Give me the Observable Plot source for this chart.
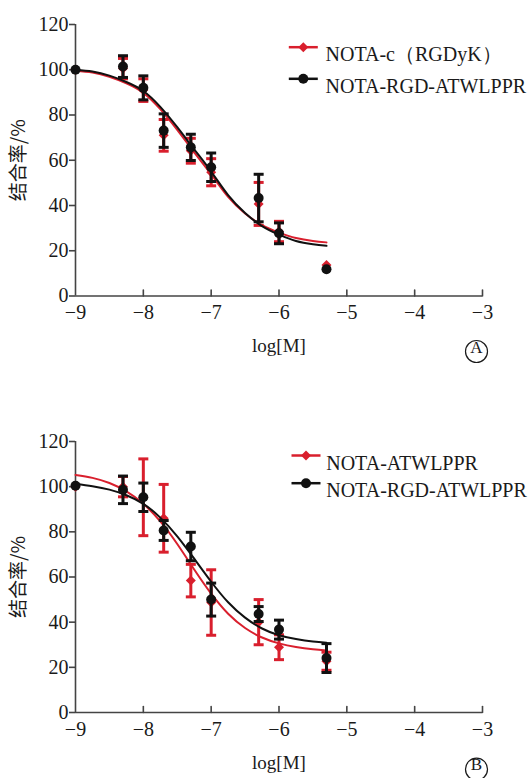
<!DOCTYPE html>
<html><head><meta charset="utf-8">
<script src="https://cdn.jsdelivr.net/npm/d3@7"></script>
<script src="https://cdn.jsdelivr.net/npm/@observablehq/plot@0.6"></script>
<style>
body{margin:0;background:#fff}
#chart{width:531px}
#chart svg{display:block}
#chart svg, #chart svg text, #chart svg g{font-family:"Liberation Serif","DejaVu Serif",serif !important}
#chart svg .cjk, #chart svg .cjk text{font-family:"Noto Sans CJK SC",sans-serif !important}
</style>
</head><body><div id="chart"></div>
<script>
// ---- shared axis data ----
const xTicks = [-9, -8, -7, -6, -5, -4, -3];
const yTicks = [0, 20, 40, 60, 80, 100, 120];
const xDomain = [-9, -3];
const yDomain = [0, 120];
const xLabel = "log[M]";
const yLabel = "结合率/%";
const doses = [-9, -8.3, -8, -7.7, -7.3, -7, -6.3, -6, -5.3];
const fitDoses = [-9, -8.75, -8.5, -8.25, -8, -7.75, -7.5, -7.25, -7, -6.75, -6.5, -6.25, -6, -5.75, -5.5, -5.3];

// ---- panel A ----
const namesA = ["NOTA-c（RGDyK）", "NOTA-RGD-ATWLPPR"];
const redMeanA = [100, 100.5, 91, 71, 64.2, 54.7, 40.7, 28.5, 13.7];
const redErrA = [0, 4.5, 5, 7, 5.5, 6, 9.5, 4.5, 0];
const blackMeanA = [100, 101.4, 92, 73.1, 65.7, 56.9, 43.3, 27.7, 11.8];
const blackErrA = [0, 4.8, 5.3, 7.4, 5.8, 6.3, 10.5, 4.6, 0];
const redFitA = [99.6, 98.8, 96.9, 94.0, 89.8, 82.6, 73.4, 63.5, 53.8, 43.8, 36.5, 31.3, 28.0, 25.6, 24.3, 23.7];
const blackFitA = [100.0, 99.2, 97.4, 94.6, 90.6, 83.6, 74.6, 64.8, 55.0, 44.6, 36.7, 30.9, 27.1, 24.3, 22.9, 22.2];

// ---- panel B ----
const namesB = ["NOTA-ATWLPPR", "NOTA-RGD-ATWLPPR"];
const redMeanB = [100, 100, 95.3, 86, 58.4, 48.7, 40, 28.9, 22.7];
const redErrB = [0, 4.5, 17, 15, 7.2, 14.5, 10, 5.5, 4];
const blackMeanB = [100.4, 98.6, 95.3, 80.6, 73.5, 50, 43.6, 36.7, 24.1];
const blackErrB = [0, 6.1, 6.3, 4.4, 6.3, 7.3, 3.3, 4.2, 6.4];
const redFitB = [105.2, 103.9, 101.6, 97.9, 92.4, 84.6, 74.6, 63.3, 52.6, 43.7, 37.4, 33.2, 30.6, 29.0, 28.0, 27.5];
const blackFitB = [101.3, 100.2, 98.7, 96.2, 92.4, 86.3, 78.0, 68.1, 57.9, 48.8, 42.0, 37.2, 34.2, 32.5, 31.4, 30.9];

// ---- styling ----
const RED = "#d91f2d";
const BLACK = "#111";
const AXIS = "#444";
const SERIF = "Liberation Serif";
const CJK = "Noto Sans CJK SC";

const tickUp = {draw(c, l) { c.moveTo(0, 0); c.lineTo(0, -l); }};
const capSym = {draw(c) { c.moveTo(-5, 0); c.lineTo(5, 0); }};
const legendLine = {draw(c) { c.moveTo(-14.5, 0); c.lineTo(14.5, 0); }};
const fmt = d => d < 0 ? "\u2212" + Math.abs(d) : String(d);

function rows(mean, err) { return doses.map((x, i) => ({x, y: mean[i], e: err[i]})); }
function fitRows(vals) { return fitDoses.map((x, i) => ({x, y: vals[i]})); }

function seriesMarks(pts, fit, color, symbol, r) {
  const eb = pts.filter(d => d.e > 0);
  return [
    Plot.line(fitRows(fit), {x: "x", y: "y", stroke: color, strokeWidth: 2, curve: "natural"}),
    Plot.ruleX(eb, {x: "x", y1: d => d.y - d.e, y2: d => d.y + d.e, stroke: color, strokeWidth: 3}),
    Plot.dot(eb, {x: "x", y: d => d.y + d.e, symbol: capSym, stroke: color, strokeWidth: 3}),
    Plot.dot(eb, {x: "x", y: d => d.y - d.e, symbol: capSym, stroke: color, strokeWidth: 3}),
    Plot.dot(pts, {x: "x", y: "y", symbol, r, fill: color})
  ];
}

function panel({marginTop, marginBottom, names, red, black, letter, leg}) {
  const svg = Plot.plot({
    width: 531, height: 389,
    marginLeft: 75, marginRight: 49, marginTop, marginBottom,
    style: {fontSize: "20px", color: "#1a1a1a", background: "#fff"},
    x: {domain: xDomain},
    y: {domain: yDomain},
    marks: [
      Plot.axisY(yTicks, {tickSize: 6, tickPadding: 1, label: null, fontSize: 20, stroke: AXIS, strokeWidth: 1.6, tickFormat: fmt}),
      Plot.axisX(xTicks, {tickSize: 0, tickPadding: 9, label: null, fontSize: 20, tickFormat: fmt}),
      Plot.vector(xTicks.slice(1), {x: d => d, y: () => yDomain[0], length: 6, anchor: "start", shape: tickUp, stroke: AXIS, strokeWidth: 1.6}),
      Plot.ruleY([yDomain[0]], {stroke: AXIS, strokeWidth: 1.6}),
      Plot.ruleX([xDomain[0]], {stroke: AXIS, strokeWidth: 1.6}),
      ...seriesMarks(red.pts, red.fit, RED, "diamond2", 4.5),
      ...seriesMarks(black.pts, black.fit, BLACK, "circle", 5),
      // legend
      Plot.dot([0], {frameAnchor: "top-left", dx: leg.dx, dy: leg.dy1, symbol: legendLine, stroke: RED, strokeWidth: 2.5}),
      Plot.dot([0], {frameAnchor: "top-left", dx: leg.dx, dy: leg.dy1, symbol: "diamond2", r: 4.5, fill: RED}),
      Plot.text([names[0]], {text: d => d, frameAnchor: "top-left", dx: leg.tx, dy: leg.dy1, textAnchor: "start", fontSize: 20, fontFamily: SERIF}),
      Plot.dot([0], {frameAnchor: "top-left", dx: leg.dx, dy: leg.dy2, symbol: legendLine, stroke: BLACK, strokeWidth: 2.5}),
      Plot.dot([0], {frameAnchor: "top-left", dx: leg.dx, dy: leg.dy2, symbol: "circle", r: 5, fill: BLACK}),
      Plot.text([names[1]], {text: d => d, frameAnchor: "top-left", dx: leg.tx, dy: leg.dy2, textAnchor: "start", fontSize: 20, fontFamily: SERIF}),
      // labels
      Plot.text([yLabel], {text: d => d, frameAnchor: "left", dx: -57, rotate: -90, textAnchor: "middle", fontSize: 19, fontFamily: CJK}),
      Plot.text([xLabel], {text: d => d, frameAnchor: "bottom", dy: 56, textAnchor: "middle", fontSize: 19, fontFamily: SERIF}),
      Plot.dot([0], {frameAnchor: "bottom-right", dx: -6, dy: letter.dy, r: 11, stroke: "#1a1a1a", strokeWidth: 1.2, fill: "none"}),
      Plot.text([letter.t], {text: d => d, frameAnchor: "bottom-right", dx: -6, dy: letter.dy + 1, textAnchor: "middle", fontSize: 17, fontFamily: SERIF})
    ]
  });
  // keep the CJK label in the CJK font
  svg.querySelectorAll("text").forEach(t => { if (/[\u4e00-\u9fff]/.test(t.textContent)) t.classList.add("cjk"); });
  return svg;
}

const chart = document.getElementById("chart");
chart.append(panel({
  marginTop: 24, marginBottom: 93.5, names: namesA,
  red: {pts: rows(redMeanA, redErrA), fit: redFitA},
  black: {pts: rows(blackMeanA, blackErrA), fit: blackFitA},
  letter: {t: "A", dy: 55.5},
  leg: {dx: 227.8, tx: 250, dy1: 22.7, dy2: 54.3}
}));
chart.append(panel({
  marginTop: 52, marginBottom: 66, names: namesB,
  red: {pts: rows(redMeanB, redErrB), fit: redFitB},
  black: {pts: rows(blackMeanB, blackErrB), fit: blackFitB},
  letter: {t: "B", dy: 56.7},
  leg: {dx: 230.5, tx: 250.7, dy1: 14, dy2: 41.7}
}));
</script>
</body></html>
